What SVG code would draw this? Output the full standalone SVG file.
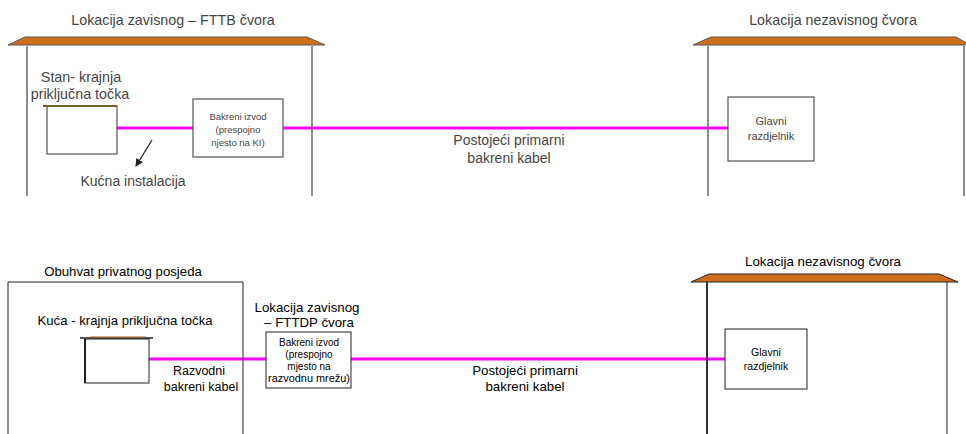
<svg xmlns="http://www.w3.org/2000/svg" width="966" height="434" viewBox="0 0 966 434">
<style>
text{font-family:"Liberation Sans",Arial,sans-serif;text-anchor:middle}
.t1{fill:#444}
.t2{fill:#000}
.roof{fill:#cf6f1c;stroke:#555;stroke-width:1}
.wall{fill:none;stroke:#666;stroke-width:1.5}
.wall2{fill:none;stroke:#222;stroke-width:1}
.box{fill:#fff;stroke:#555;stroke-width:1.2}
.box2{fill:#fff;stroke:#222;stroke-width:1}
.cab{stroke:#ff00ff;stroke-width:3;fill:none}
</style>
<defs>
<marker id="ah" markerWidth="8" markerHeight="8" refX="7" refY="4" orient="auto" markerUnits="userSpaceOnUse">
<path d="M0,0 L8,4 L0,8 z" fill="#222"/>
</marker>
</defs>

<g id="connectors">
<line class="cab" x1="117" y1="128" x2="193" y2="128"/>
<line class="cab" x1="283" y1="128" x2="728" y2="128"/>
<line class="cab" x1="149" y1="359" x2="266" y2="359"/>
<line class="cab" x1="351" y1="359" x2="725" y2="359"/>
<line x1="152" y1="140" x2="136" y2="166" stroke="#222" stroke-width="1.3" marker-end="url(#ah)"/>
</g>

<g id="house-fttb">
<text class="t1" x="173" y="25" font-size="14.3">Lokacija zavisnog – FTTB čvora</text>
<polyline class="wall" points="27,46 27,196"/>
<polyline class="wall" points="312,46 312,196"/>
<polygon class="roof" points="8,45 25,37 307,37 325,45"/>
</g>

<g id="stan">
<text class="t1" x="81" y="82" font-size="14.3">Stan- krajnja</text>
<text class="t1" x="80" y="99" font-size="14.3">priključna točka</text>
<rect class="box" x="47" y="106" width="70" height="48"/>
<line x1="43" y1="106" x2="117" y2="106" stroke="#7a5a30" stroke-width="2"/>
</g>

<g id="bakreni-izvod-1">
<rect class="box" x="193" y="99" width="90" height="58"/>
<text class="t1" x="238" y="120" font-size="9.5">Bakreni izvod</text>
<text class="t1" x="238" y="133" font-size="9.5">(prespojno</text>
<text class="t1" x="238" y="146" font-size="9.5">njesto na KI)</text>
</g>

<g id="kucna-instalacija">
<text class="t1" x="133" y="186" font-size="14">Kućna instalacija</text>
</g>

<g id="label-primarni-1">
<text class="t1" x="509" y="145" font-size="14">Postojeći primarni</text>
<text class="t1" x="509" y="163" font-size="14">bakreni kabel</text>
</g>

<g id="house-nezavisni-1">
<text class="t1" x="833" y="25" font-size="14.3">Lokacija nezavisnog čvora</text>
<polyline class="wall" points="708,46 708,196"/>
<polyline class="wall" points="964,46 964,196"/>
<polygon class="roof" points="693,45 711,37 956,37 970,45"/>
</g>

<g id="glavni-1">
<rect class="box" x="728" y="97" width="86" height="64"/>
<text class="t1" x="771" y="125" font-size="11">Glavni</text>
<text class="t1" x="771" y="140" font-size="11">razdjelnik</text>
</g>

<g id="posjed">
<text class="t2" x="123" y="276" font-size="13.2">Obuhvat privatnog posjeda</text>
<polyline class="wall2" points="8,434 8,282 243,282 243,434"/>
</g>

<g id="kuca">
<text class="t2" x="125" y="325" font-size="13.2">Kuća - krajnja priključna točka</text>
<rect class="box2" x="85" y="339" width="64" height="44"/>
<line x1="85" y1="339" x2="85" y2="383" stroke="#222" stroke-width="2"/>
<line x1="80" y1="338" x2="153" y2="338" stroke="#222" stroke-width="1.5"/>
<line x1="90" y1="337" x2="146" y2="337" stroke="#b06020" stroke-width="1"/>
</g>

<g id="label-razvodni">
<text class="t2" x="199" y="375" font-size="12.5">Razvodni</text>
<text class="t2" x="201" y="391" font-size="12.5">bakreni kabel</text>
</g>

<g id="fttdp">
<text class="t2" x="307" y="312" font-size="13.3">Lokacija zavisnog</text>
<text class="t2" x="309" y="327" font-size="13.3">– FTTDP čvora</text>
<rect class="box2" x="266" y="332" width="85" height="56"/>
<text class="t2" x="309" y="346" font-size="10">Bakreni izvod</text>
<text class="t2" x="309" y="358" font-size="10">(prespojno</text>
<text class="t2" x="309" y="370" font-size="10">mjesto na</text>
<text class="t2" x="309" y="382" font-size="10" textLength="82" lengthAdjust="spacingAndGlyphs">razvodnu mrežu)</text>
</g>

<g id="label-primarni-2">
<text class="t2" x="525" y="375" font-size="13.3">Postojeći primarni</text>
<text class="t2" x="525" y="391" font-size="13.3">bakreni kabel</text>
</g>

<g id="house-nezavisni-2">
<text class="t2" x="823" y="266" font-size="13.3">Lokacija nezavisnog čvora</text>
<line x1="707" y1="282" x2="707" y2="434" stroke="#333" stroke-width="2"/>
<line x1="947" y1="282" x2="947" y2="434" stroke="#222" stroke-width="1"/>
<polygon points="691,282 709,274 939,274 958,282" fill="#cf6f1c" stroke="#222" stroke-width="1"/>
</g>

<g id="glavni-2">
<rect class="box2" x="725" y="329" width="82" height="60"/>
<text class="t2" x="766" y="356" font-size="10.5">Glavni</text>
<text class="t2" x="766" y="370" font-size="10.5">razdjelnik</text>
</g>
</svg>
